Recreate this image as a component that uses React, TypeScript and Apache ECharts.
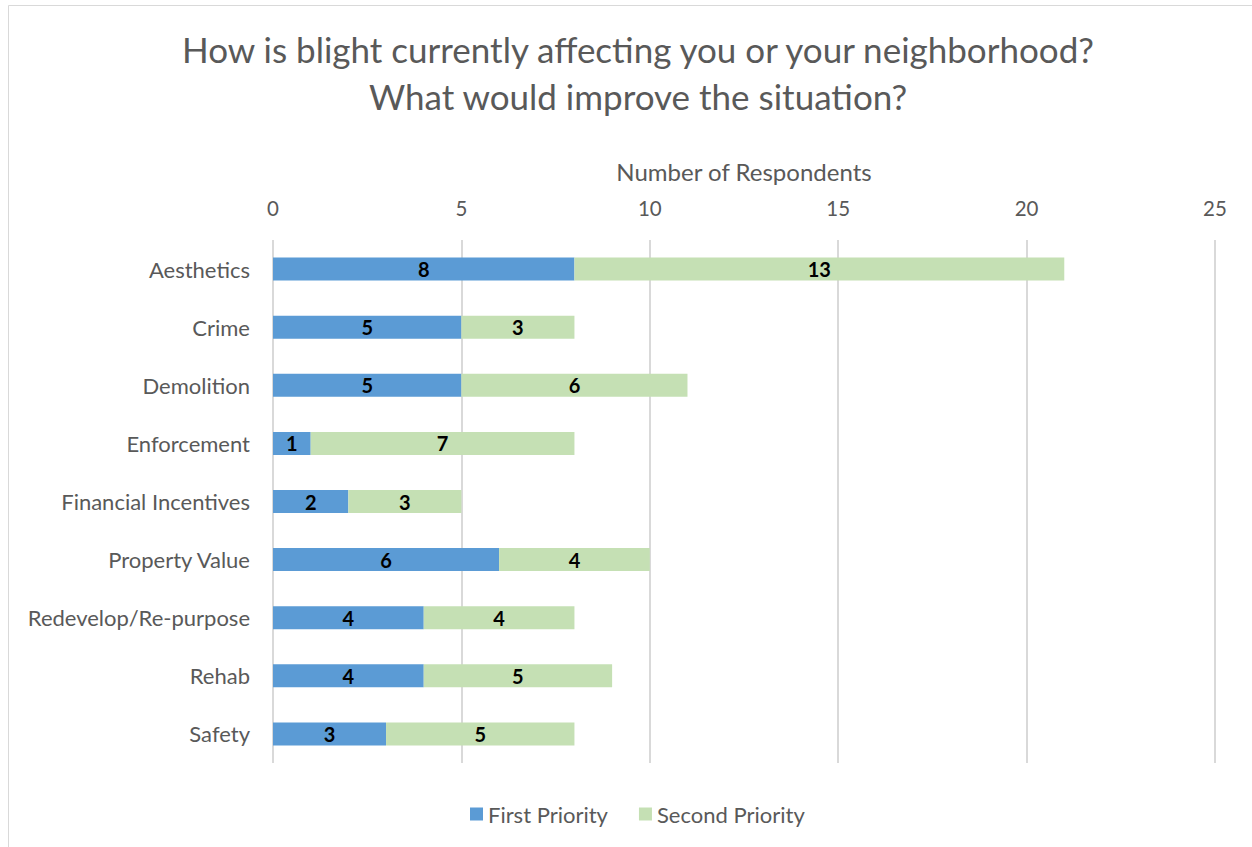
import React, { useEffect, useRef } from "react";
import * as echarts from "echarts";

const categories = [
  "Aesthetics",
  "Crime",
  "Demolition",
  "Enforcement",
  "Financial Incentives",
  "Property Value",
  "Redevelop/Re-purpose",
  "Rehab",
  "Safety",
];
const firstPriority = [8, 5, 5, 1, 2, 6, 4, 4, 3];
const secondPriority = [13, 3, 6, 7, 3, 4, 4, 5, 5];
const xTicks = [0, 5, 10, 15, 20, 25];

const FONT = "Lato, 'Open Sans', sans-serif";

export default function App() {
  const ref = useRef<HTMLDivElement>(null);
  useEffect(() => {
    if (!ref.current) return;
    const chart = echarts.init(ref.current, undefined, { renderer: "svg" });
    chart.setOption({
      animation: false,
      backgroundColor: "#ffffff",
      textStyle: { fontFamily: FONT },
      graphic: [
        {
          type: "rect",
          shape: { x: 8.5, y: 5.5, width: 1400, height: 1000 },
          style: { fill: "none", stroke: "#d9d9d9", lineWidth: 1 },
          silent: true,
        },
      ],
      title: {
        text: "How is blight currently affecting you or your neighborhood?\nWhat would improve the situation?",
        left: 633,
        textAlign: "center",
        top: 20,
        textStyle: {
          fontFamily: FONT,
          fontSize: 35,
          fontWeight: "normal",
          color: "#595959",
          lineHeight: 47,
        },
      },
      legend: {
        bottom: 17,
        left: 465,
        itemWidth: 13,
        itemHeight: 13,
        itemGap: 31,
        icon: "rect",
        textStyle: { fontFamily: FONT, fontSize: 22, color: "#595959" },
        data: ["First Priority", "Second Priority"],
      },
      grid: { left: 273, right: 37, top: 240, bottom: 84, containLabel: false },
      xAxis: {
        type: "value",
        position: "top",
        min: 0,
        max: 25,
        interval: 5,
        name: "Number of Respondents",
        nameLocation: "middle",
        nameGap: 57,
        nameTextStyle: { fontFamily: FONT, fontSize: 24, color: "#595959" },
        axisLine: { show: false },
        axisTick: { show: false },
        axisLabel: {
          fontFamily: FONT,
          fontSize: 20.5,
          color: "#595959",
          margin: 22,
          formatter: (v: number) => (xTicks.includes(v) ? String(v) : ""),
        },
        splitLine: { show: true, lineStyle: { color: "#d9d9d9", width: 2 } },
      },
      yAxis: {
        type: "category",
        inverse: true,
        data: categories,
        axisLine: { show: false },
        axisTick: { show: false },
        axisLabel: { fontFamily: FONT, fontSize: 22, color: "#595959", margin: 23 },
      },
      series: [
        {
          name: "First Priority",
          type: "bar",
          stack: "total",
          barWidth: 23,
          data: firstPriority,
          itemStyle: { color: "#5b9bd5" },
          label: {
            show: true,
            position: "inside",
            fontFamily: FONT,
            fontSize: 20,
            fontWeight: "bold",
            color: "#000000",
          },
        },
        {
          name: "Second Priority",
          type: "bar",
          stack: "total",
          barWidth: 23,
          data: secondPriority,
          itemStyle: { color: "#c5e0b4" },
          label: {
            show: true,
            position: "inside",
            fontFamily: FONT,
            fontSize: 20,
            fontWeight: "bold",
            color: "#000000",
          },
        },
      ],
    });
    return () => chart.dispose();
  }, []);
  return (
    <div
      ref={ref}
      style={{ position: "absolute", left: 0, top: 0, width: 1252, height: 847 }}
    />
  );
}
